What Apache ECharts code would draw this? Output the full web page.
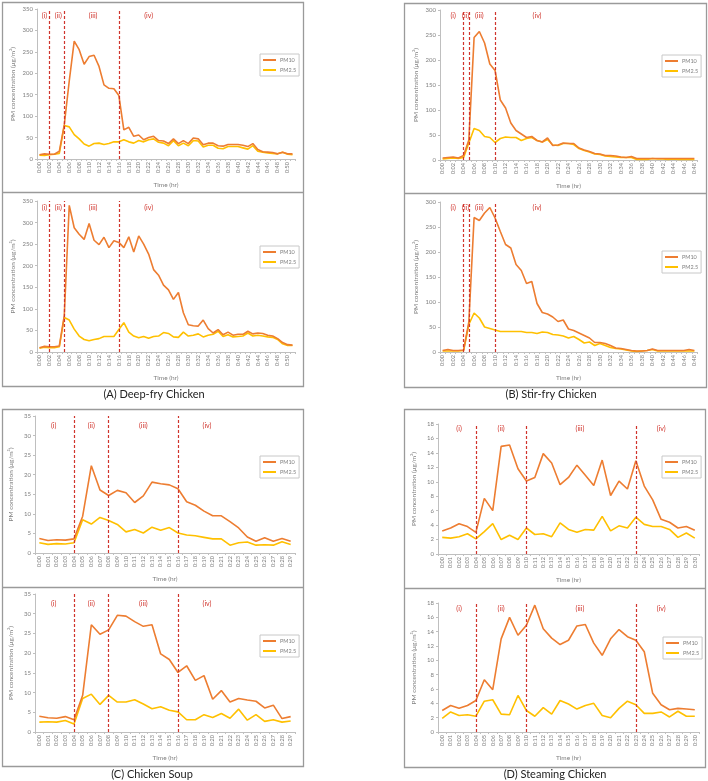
<!DOCTYPE html>
<html><head><meta charset="utf-8">
<script src="https://cdn.jsdelivr.net/npm/echarts@6/dist/echarts.min.js"></script>
<style>html,body{margin:0;padding:0;background:#fff}#c{width:708px;height:781px}</style>
</head><body><div id="c"></div>
<script>
// ---------- categories (time labels) ----------
const timesA = ['0:00','0:01','0:02','0:03','0:04','0:05','0:06','0:07','0:08','0:09','0:10','0:11','0:12','0:13','0:14','0:15','0:16','0:17','0:18','0:19','0:20','0:21','0:22','0:23','0:24','0:25','0:26','0:27','0:28','0:29','0:30','0:31','0:32','0:33','0:34','0:35','0:36','0:37','0:38','0:39','0:40','0:41','0:42','0:43','0:44','0:45','0:46','0:47','0:48','0:49','0:50','0:51'];
const timesB = timesA.slice(0, 49);
const timesD = ['0:00','0:01','0:02','0:03','0:04','0:05','0:06','0:07','0:08','0:09','0:10','0:11','0:12','0:13','0:14','0:15','0:16','0:17','0:18','0:19','0:20','0:21','0:22','0:23','0:24','0:25','0:26','0:27','0:28','0:29','0:30'];
const timesC = timesD.slice(0, 30);

// ---------- series values ----------
// (A) Deep-fry Chicken
const pm10_A1 = [10,12,11,11,18,80,182,275,255,221,239,242,216,173,165,164,148,68,74,53,56,45,50,53,43,42,36,47,36,43,36,49,47,33,37,37,31,30,34,34,34,32,29,36,22,17,16,15,12,16,12,12];
const pm25_A1 = [9,8,10,11,13,78,75,57,47,35,30,36,37,34,36,40,40,45,40,37,43,40,45,47,39,37,31,43,31,37,31,43,42,28,32,32,25,24,29,29,29,26,23,31,18,16,14,13,12,16,11,10];
const pm10_A2 = [10,13,12,12,14,85,340,288,273,261,298,259,249,266,242,258,254,242,267,232,269,250,227,191,178,155,144,122,138,91,63,61,60,74,54,44,52,40,46,39,41,41,48,42,44,43,39,37,31,22,17,16];
const pm25_A2 = [9,11,10,10,12,80,74,53,37,29,26,29,31,36,36,36,52,68,46,37,33,36,32,36,37,45,43,35,34,46,37,39,42,35,39,41,48,36,40,35,36,37,44,37,39,37,35,34,29,19,15,15];
// (B) Stir-fry Chicken
const pm10_B1 = [4,5,6,4,9,40,245,257,234,192,179,120,104,74,59,52,45,47,39,36,44,29,30,34,33,33,24,20,17,13,12,9,9,8,6,5,7,3,3,3,3,3,3,3,3,3,3,3,3];
const pm25_B1 = [2,3,4,3,5,34,63,59,47,45,35,43,46,45,45,39,43,45,39,36,41,30,29,33,33,31,23,19,16,12,11,8,7,6,5,5,5,1,1,1,3,2,2,1,2,1,1,1,1];
const pm10_B2 = [3,5,3,3,4,60,269,263,278,289,268,241,215,208,175,163,137,141,97,79,76,70,61,64,46,43,38,33,28,19,19,17,13,8,7,5,3,2,2,3,6,3,3,3,3,3,3,5,3];
const pm25_B2 = [2,2,2,2,3,55,78,68,50,47,44,41,41,41,41,41,39,39,37,40,39,35,34,32,28,31,25,18,20,13,17,13,9,7,6,4,2,1,2,3,5,2,2,2,2,2,2,2,2];
// (C) Chicken Soup
const pm10_C1 = [3.7,3.2,3.4,3.3,3.6,9.4,22.3,16.1,14.7,16.0,15.4,12.9,14.6,18.1,17.7,17.4,16.4,13.1,12.2,10.7,9.5,9.5,8.0,6.4,4.1,3.0,3.9,3.0,3.7,3.0];
const pm25_C1 = [2.6,2.2,2.4,2.3,2.6,8.5,7.4,9.1,8.3,7.3,5.4,6.0,5.1,6.6,5.8,6.5,5.1,4.6,4.4,4.0,3.6,3.6,2.0,2.6,2.8,2.0,2.1,2.0,2.9,2.2];
const pm10_C2 = [4.0,3.6,3.5,3.9,3.1,9.3,27.2,24.8,25.9,29.6,29.4,28.0,26.8,27.2,19.8,18.4,15.1,16.8,13.1,14.3,8.3,10.5,7.6,8.5,8.1,7.8,6.1,6.8,3.4,3.9];
const pm25_C2 = [2.5,2.6,2.5,2.9,2.0,8.5,9.6,7.0,9.3,7.6,7.6,8.2,7.1,5.9,6.4,5.5,5.1,3.1,3.1,4.4,3.7,4.7,3.5,5.8,3.0,4.4,2.7,3.1,2.5,2.8];
// (D) Steaming Chicken
const pm10_D1 = [3.2,3.6,4.2,3.8,3.0,7.7,6.0,14.9,15.1,11.8,10.1,10.6,13.9,12.6,9.6,10.6,12.3,10.9,9.5,13.0,8.1,10.1,9.0,12.9,9.4,7.5,4.8,4.4,3.6,3.8,3.3];
const pm25_D1 = [2.3,2.2,2.4,2.8,2.1,3.1,4.2,2.0,2.6,2.0,3.6,2.7,2.8,2.4,4.3,3.4,3.0,3.4,3.3,5.2,3.2,3.9,3.6,5.1,4.1,3.8,3.8,3.4,2.3,2.9,2.2];
const pm10_D2 = [3.0,3.7,3.3,3.7,4.4,7.3,5.9,13.0,16.0,13.5,14.9,17.7,14.4,13.1,12.2,12.8,14.8,15.0,12.4,10.7,13.0,14.3,13.3,12.8,11.2,5.4,3.8,3.1,3.3,3.2,3.1];
const pm25_D2 = [1.9,2.8,2.3,2.4,2.2,4.3,4.5,2.5,2.4,5.1,3.0,2.2,3.4,2.5,4.4,3.9,3.2,3.7,4.0,2.3,2.0,3.3,4.3,3.8,2.6,2.6,2.8,2.1,2.9,2.2,2.2];

// ---------- phase boundaries and phase labels ----------
const phaseA = ['0:02','0:05','0:16'];
const phaseB = ['0:04','0:05','0:10'];
const phaseC = ['0:04','0:08','0:16'];
const phaseD = ['0:04','0:10','0:23'];
const phaseNames = ['(i)','(ii)','(iii)','(iv)'];
const tagA = ['0:01','0:04','0:11','0:22'];
const tagB = ['0:02','0:04','0:07','0:18'];
const tagC = ['0:02','0:06','0:12','0:19'];
const tagD = ['0:02','0:07','0:16','0:26'];
const seriesNames = ['PM10','PM2.5'];
const yName = 'PM concentration (\u03bcg/m\u00b3)';
const xName = 'Time (hr)';
const captions = ['(A) Deep-fry Chicken','(B) Stir-fry Chicken','(C) Chicken Soup','(D) Steaming Chicken'];

// ---------- styling / layout ----------
const FONT = 'Lato';
const RED = '#d0342c';
const C10 = '#ED7D31', C25 = '#FFC000';
const GRAY = '#808080';

const panels = [
  {grid:{left:37,top:9,width:258,height:150}, cats:timesA, d10:pm10_A1, d25:pm25_A1, max:350, step:50, li:1, phases:phaseA, tags:tagA, tagY:335, off:[0,-1,-1,0], lg:{left:260,top:54}},
  {grid:{left:37,top:201,width:258,height:151}, cats:timesA, d10:pm10_A2, d25:pm25_A2, max:350, step:50, li:1, phases:phaseA, tags:tagA, tagY:335, off:[0,-1,-1,0], lg:{left:260,top:246}},
  {grid:{left:440,top:10,width:257,height:150}, cats:timesB, d10:pm10_B1, d25:pm25_B1, max:300, step:50, li:1, phases:phaseB, tags:tagB, tagY:289, off:[0,2,0,0], lg:{left:662,top:55}},
  {grid:{left:440,top:202,width:257,height:150}, cats:timesB, d10:pm10_B2, d25:pm25_B2, max:300, step:50, li:1, phases:phaseB, tags:tagB, tagY:289, off:[0,2,0,0], lg:{left:662,top:251}},
  {grid:{left:35,top:416,width:260,height:137}, cats:timesC, d10:pm10_C1, d25:pm25_C1, max:35, step:5, li:0, phases:phaseC, tags:tagC, tagY:32.6, off:[-3,0,0,3], lg:{left:260,top:456}},
  {grid:{left:35,top:594,width:260,height:138}, cats:timesC, d10:pm10_C2, d25:pm25_C2, max:35, step:5, li:0, phases:phaseC, tags:tagC, tagY:32.5, off:[-3,0,0,3], lg:{left:260,top:635}},
  {grid:{left:438,top:424,width:261,height:130}, cats:timesD, d10:pm10_D1, d25:pm25_D1, max:18, step:2, li:0, phases:phaseD, tags:tagD, tagY:17.3, off:[0,0,3,0], lg:{left:662,top:456}},
  {grid:{left:438,top:603,width:261,height:129}, cats:timesD, d10:pm10_D2, d25:pm25_D2, max:18, step:2, li:0, phases:phaseD, tags:tagD, tagY:17.2, off:[0,0,3,0], lg:{left:663,top:637}}
];

const option = {animation:false, backgroundColor:'#fff', textStyle:{fontFamily:FONT},
  grid:[], xAxis:[], yAxis:[], series:[], legend:[], graphic:[]};

panels.forEach((p, g) => {
  option.grid.push(Object.assign({containLabel:false}, p.grid));
  option.xAxis.push({type:'category', gridIndex:g, data:p.cats, boundaryGap:true,
    name:xName, nameLocation:'middle', nameGap:22,
    nameTextStyle:{fontSize:6.5, color:GRAY, fontFamily:FONT},
    axisLine:{lineStyle:{color:'#bfbfbf', width:1}},
    axisTick:{show:true, length:2, interval:0, lineStyle:{color:'#bfbfbf'}},
    axisLabel:{rotate:90, interval:p.li, fontSize:5.5, color:GRAY, margin:3, fontFamily:FONT},
    splitLine:{show:false}});
  option.yAxis.push({type:'value', gridIndex:g, min:0, max:p.max, interval:p.step,
    name:yName, nameLocation:'middle', nameGap:21,
    nameTextStyle:{fontSize:6.5, color:GRAY, fontFamily:FONT},
    axisLine:{show:true, lineStyle:{color:'#bfbfbf', width:1}},
    axisTick:{show:true, length:2, lineStyle:{color:'#bfbfbf'}},
    axisLabel:{fontSize:6, color:GRAY, margin:4, fontFamily:FONT},
    splitLine:{show:false}});
  option.series.push({name:seriesNames[0], type:'line', xAxisIndex:g, yAxisIndex:g, data:p.d10,
    showSymbol:false, symbol:'none', lineStyle:{color:C10, width:1.6}, itemStyle:{color:C10}, z:3,
    markLine:{silent:true, symbol:'none', label:{show:false},
      lineStyle:{color:RED, type:[3,2], width:1.2},
      data:p.phases.map(c => ({xAxis:c}))},
    markPoint:{silent:true, symbol:'rect', symbolSize:1, itemStyle:{color:'rgba(0,0,0,0)'},
      label:{show:true, position:'inside', color:RED, fontSize:7, fontFamily:FONT, formatter:'{b}'},
      data:p.tags.map((c,k) => ({name:phaseNames[k], coord:[c, p.tagY], label:{offset:[p.off[k],0]}}))}
  });
  option.series.push({name:seriesNames[1], type:'line', xAxisIndex:g, yAxisIndex:g, data:p.d25,
    showSymbol:false, symbol:'none', lineStyle:{color:C25, width:1.6}, itemStyle:{color:C25}, z:2});
  option.legend.push({data:seriesNames, orient:'vertical', left:p.lg.left, top:p.lg.top,
    borderColor:'#c8c8c8', borderWidth:1, padding:[3,3,3,3], itemGap:3, itemWidth:13, itemHeight:2,
    itemGap:4, icon:'rect', selectedMode:false,
    textStyle:{fontSize:5.5, color:GRAY, fontFamily:FONT, padding:[0,0,0,-1]}});
});

// panel frames and captions
const frames = [
  {x:2, y:2, w:301, h:384, d:192},
  {x:404, y:3, w:302, h:384, d:193},
  {x:2, y:409, w:301, h:357, d:587},
  {x:404, y:409, w:301, h:358, d:588}
];
const capPos = [[154,394],[551,394],[152,774],[555,774]];
frames.forEach((f,i) => {
  option.graphic.push({type:'rect', silent:true, shape:{x:f.x+0.5, y:f.y+0.5, width:f.w, height:f.h},
    style:{fill:'none', stroke:'#9a9a9a', lineWidth:1.3}});
  option.graphic.push({type:'line', silent:true, shape:{x1:f.x, y1:f.d+0.5, x2:f.x+f.w, y2:f.d+0.5},
    style:{stroke:'#9a9a9a', lineWidth:1.3}});
  option.graphic.push({type:'text', silent:true, x:capPos[i][0], y:capPos[i][1],
    style:{text:captions[i], fill:'#222', font:'11px Lato', align:'center', verticalAlign:'middle'}});
});

const chart = echarts.init(document.getElementById('c'));
chart.setOption(option);
</script></body></html>
